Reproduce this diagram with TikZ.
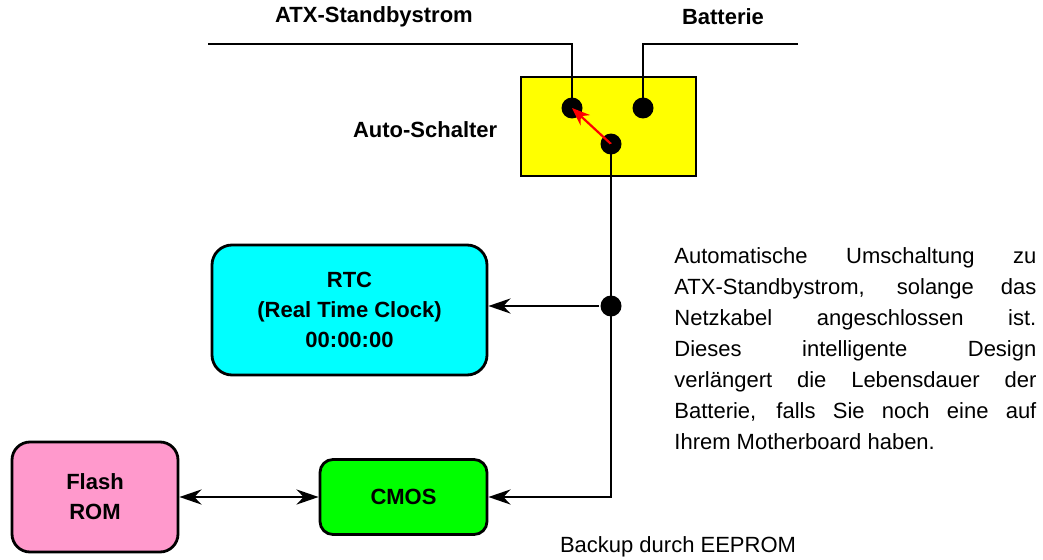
\documentclass[tikz,border=0pt]{standalone}
\usepackage{fontspec}
\setmainfont{Liberation Sans}
\usetikzlibrary{arrows.meta}
\definecolor{rtccyan}{HTML}{00FFFF}
\definecolor{cmosgreen}{HTML}{00FF00}
\definecolor{flashpink}{HTML}{FF99CC}
\definecolor{switchyellow}{HTML}{FFFF00}
\definecolor{arrowred}{HTML}{FF0000}

\begin{document}
\begin{tikzpicture}[x=1pt,y=-1pt,line width=2.8pt,
    font=\fontsize{22}{31}\selectfont,
    box/.style={draw,rounded corners=#1,align=center,font=\fontsize{22}{30}\selectfont\bfseries,inner sep=0pt},
    dot/.style={circle,fill,inner sep=0pt,minimum size=21pt},
    tip/.style={-{Stealth[length=22pt,width=15pt,inset=7pt]}},
    boldlabel/.style={font=\fontsize{22}{30}\selectfont\bfseries}]
  \useasboundingbox (0,0) rectangle (1043,559);
  % Auto-Schalter
  \node[draw,fill=switchyellow,minimum width=175pt,minimum height=99pt,inner sep=0pt] (schalter) at (608.5,126.5) {};
  \node[dot] (atx) at (572,108) {};
  \node[dot] (bat) at (643,108) {};
  \node[dot] (com) at (611,144) {};
  \node[dot] (junc) at (611,306) {};
  \coordinate (atxend) at (208,44);
  \coordinate (batend) at (798,44);
  \draw (atxend) -| (atx.center);
  \draw (batend) -| (bat.center);
  \draw[arrowred,line width=2.2pt,-{Stealth[length=18pt,width=14pt,inset=6pt]}] (com.center) -- (atx.center);
  \node[boldlabel] (atxlabel) at (374,17) {ATX-Standbystrom};
  \node[boldlabel] (batlabel) at (723,17) {Batterie};
  \node[boldlabel,anchor=east] (schalterlabel) at (502,130) {Auto-Schalter};
  % Bausteine
  \node[box=20pt,fill=rtccyan,minimum width=275pt,minimum height=130pt] (rtc) at (349.5,310) {RTC\\(Real Time Clock)\\00:00:00};
  \node[box=13pt,fill=cmosgreen,minimum width=167pt,minimum height=75pt] (cmos) at (403.5,497) {CMOS};
  \node[box=18pt,fill=flashpink,minimum width=166pt,minimum height=110pt] (flash) at (95,497) {Flash\\ROM};
  \draw[tip] (com.center) |- (cmos.east);
  \draw[tip] (junc) -- (junc -| rtc.east);
  \draw[{Stealth[length=22pt,width=15pt,inset=7pt]}-{Stealth[length=22pt,width=15pt,inset=7pt]}] (flash) -- (cmos);
  % Texte
  \node[anchor=north west,text width=362pt,align=justify,inner sep=0pt] (info) at (673,246)
    {Automatische Umschaltung zu\linebreak ATX-Standbystrom, solange das\linebreak Netzkabel angeschlossen ist.\linebreak Dieses intelligente Design\linebreak verlängert die Lebensdauer der\linebreak Batterie, falls Sie noch eine auf\linebreak Ihrem Motherboard haben.};
  \node (backup) at (678,547) {Backup durch EEPROM};
\end{tikzpicture}
\end{document}
